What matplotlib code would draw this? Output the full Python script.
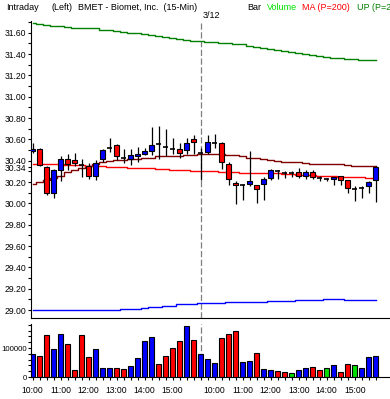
import matplotlib
matplotlib.use("Agg")
import matplotlib.pyplot as plt
from matplotlib.ticker import FixedLocator, MultipleLocator, FormatStrFormatter

plt.rcParams["font.family"] = ["Liberation Sans", "DejaVu Sans"]
plt.rcParams["font.size"] = 6.5

# 15-min bars: day 1 from 10:00, day 2 (3/12) from 9:30
day1 = [f"{h}:{m:02d}" for h in range(10, 16) for m in (0, 15, 30, 45)]
day2 = ["9:30", "9:45"] + day1
times = day1 + day2

opens = [30.49, 30.51, 30.34, 30.10, 30.31, 30.42, 30.41, 30.36, 30.35, 30.26,
         30.42, 30.52, 30.55, 30.43, 30.42, 30.445, 30.46, 30.49, 30.56, 30.53,
         30.51, 30.51, 30.50, 30.60, 30.47, 30.48, 30.57, 30.57, 30.37, 30.19,
         30.17, 30.18, 30.17, 30.18, 30.24, 30.30, 30.28, 30.28, 30.29, 30.26,
         30.29, 30.24, 30.23, 30.23, 30.26, 30.22, 30.13, 30.14, 30.16, 30.22]
highs = [30.57, 30.52, 30.35, 30.32, 30.44, 30.46, 30.47, 30.42, 30.38, 30.41,
         30.51, 30.61, 30.56, 30.51, 30.51, 30.53, 30.52, 30.72, 30.73, 30.70,
         30.61, 30.57, 30.61, 30.64, 30.52, 30.64, 30.65, 30.58, 30.39, 30.21,
         30.18, 30.49, 30.17, 30.25, 30.32, 30.31, 30.30, 30.30, 30.33, 30.31,
         30.31, 30.26, 30.24, 30.25, 30.26, 30.22, 30.16, 30.16, 30.21, 30.35]
lows = [30.47, 30.35, 30.08, 30.05, 30.21, 30.31, 30.35, 30.25, 30.23, 30.22,
        30.39, 30.48, 30.41, 30.38, 30.36, 30.39, 30.45, 30.45, 30.42, 30.44,
        30.46, 30.43, 30.46, 30.46, 30.22, 30.46, 30.52, 30.32, 30.17, 29.99,
        30.03, 30.16, 30.00, 30.03, 30.22, 30.23, 30.24, 30.25, 30.24, 30.23,
        30.23, 30.21, 30.21, 30.17, 30.17, 30.10, 30.02, 30.05, 30.10, 30.01]
closes = [30.51, 30.36, 30.10, 30.31, 30.42, 30.37, 30.38, 30.36, 30.26, 30.38,
          30.50, 30.52, 30.44, 30.43, 30.45, 30.46, 30.49, 30.55, 30.56, 30.53,
          30.51, 30.47, 30.57, 30.58, 30.47, 30.58, 30.57, 30.39, 30.23, 30.17,
          30.17, 30.21, 30.13, 30.23, 30.31, 30.30, 30.28, 30.28, 30.26, 30.29,
          30.25, 30.24, 30.23, 30.25, 30.22, 30.14, 30.13, 30.14, 30.20, 30.34]

volumes = [78, 73, 145, 97, 148, 113, 24, 145, 69, 97,
           31, 31, 31, 27, 38, 66, 125, 137, 45, 73,
           100, 125, 175, 128, 80, 62, 48, 134, 147, 160,
           52, 55, 83, 28, 24, 20, 17, 13, 24, 31,
           34, 24, 31, 41, 17, 45, 41, 31, 69, 73]  # thousands
vol_dir = "brrbbrrrrbbbrrbbbbrrrrbrbbbrrrbbrbbrrgbbrrgbrrgbbb"

ma200 = [30.37, 30.37, 30.37, 30.37, 30.365, 30.36, 30.36, 30.36, 30.355, 30.35,
         30.35, 30.345, 30.34, 30.34, 30.335, 30.33, 30.33, 30.33, 30.32, 30.32,
         30.315, 30.31, 30.31, 30.305, 30.30, 30.30, 30.30, 30.295, 30.295, 30.29,
         30.285, 30.285, 30.28, 30.28, 30.28, 30.28, 30.275, 30.275, 30.27, 30.265,
         30.265, 30.26, 30.26, 30.255, 30.25, 30.25, 30.25, 30.245, 30.24, 30.24]
mid_band = [30.18, 30.20, 30.22, 30.24, 30.26, 30.29, 30.31, 30.33, 30.35, 30.37,
            30.39, 30.40, 30.41, 30.41, 30.42, 30.42, 30.43, 30.43, 30.44, 30.44,
            30.44, 30.44, 30.45, 30.45, 30.46, 30.46, 30.46, 30.46, 30.45, 30.45,
            30.44, 30.43, 30.43, 30.42, 30.41, 30.40, 30.39, 30.39, 30.39, 30.38,
            30.37, 30.37, 30.37, 30.37, 30.37, 30.36, 30.35, 30.35, 30.35, 30.35]
up_band = [31.69, 31.68, 31.67, 31.66, 31.66, 31.65, 31.64, 31.64, 31.64, 31.64,
           31.63, 31.63, 31.62, 31.61, 31.60, 31.60, 31.59, 31.58, 31.57, 31.56,
           31.55, 31.54, 31.53, 31.52, 31.52, 31.51, 31.51, 31.50, 31.50, 31.49,
           31.49, 31.48, 31.47, 31.46, 31.45, 31.44, 31.43, 31.42, 31.41, 31.40,
           31.39, 31.38, 31.37, 31.36, 31.36, 31.35, 31.35, 31.34, 31.34, 31.34]
dn_band = [29.00] * 13 + [29.007] * 3 + [29.016] + [29.028] * 2 + [29.04] * 2 \
    + [29.054] * 3 + [29.063] * 4 + [29.072] * 6 + [29.082] * 4 + [29.091] * 4 \
    + [29.10] * 3 + [29.091] * 5

last_price = 30.34
day_break = 24

W, H = 390, 399
fig = plt.figure(figsize=(W / 100, H / 100), dpi=100)
ax = fig.add_axes([31 / W, 1 - 318 / H, 1 - 31 / W, (318 - 21) / H])
axv = fig.add_axes([31 / W, 1 - 377 / H, 1 - 31 / W, (377 - 324) / H])

x = list(range(len(times)))
colmap = {"b": "#0000ff", "r": "#ff0000", "g": "#00e000"}

# bands and averages
ax.plot(x, up_band, color="#008000", lw=1, drawstyle="steps-mid", zorder=1)
ax.plot(x, dn_band, color="#0000ff", lw=1, drawstyle="steps-mid", zorder=1)
ax.plot(x, mid_band, color="#800000", lw=1, drawstyle="steps-mid", zorder=1)
ax.plot(x, ma200, color="#ff0000", lw=1, drawstyle="steps-mid", zorder=1)

# candles
ax.vlines(x, lows, highs, color="black", lw=0.9, zorder=2)
for i in x:
    o, c = opens[i], closes[i]
    if abs(c - o) < 0.005:
        ax.hlines(o, i - 0.33, i + 0.33, color="black", lw=1.2, zorder=3)
    else:
        ax.bar(i, abs(c - o), bottom=min(o, c), width=0.66,
               color="#0000ff" if c > o else "#ff0000",
               edgecolor="black", lw=0.8, zorder=3)

# volume
axv.bar(x, [v * 1000 for v in volumes], width=0.68,
        color=[colmap[d] for d in vol_dir], edgecolor="black", lw=0.8)

for a in (ax, axv):
    a.set_xlim(-0.24, 51.04)
    a.spines["top"].set_visible(False)
    a.spines["right"].set_visible(False)
    a.axvline(day_break, color="#808080", lw=0.9, ls=(0, (5, 2)), zorder=0)

ax.set_ylim(28.925, 31.71)
ax.set_xticks([])
yt = [29.0 + 0.2 * k for k in range(14)] + [last_price]
ax.yaxis.set_major_locator(FixedLocator(yt))
ax.yaxis.set_major_formatter(FormatStrFormatter("%.2f"))
ax.yaxis.set_minor_locator(MultipleLocator(0.1))
ax.tick_params(axis="y", which="both", direction="out", length=2.2, width=0.8,
               pad=1, labelsize=6.2)

axv.set_ylim(0, 183000)
axv.set_yticks([0, 100000])
axv.set_yticklabels(["0", "100000"])
axv.yaxis.set_minor_locator(MultipleLocator(20000))
axv.tick_params(axis="y", which="both", direction="out", length=2.2, width=0.8,
                pad=1, labelsize=5.6)
hours = [i for i, t in enumerate(times) if t.endswith(":00")]
axv.set_xticks(hours)
axv.set_xticklabels([times[i] for i in hours])
axv.xaxis.set_minor_locator(FixedLocator(x))
axv.tick_params(axis="x", which="both", direction="out", length=2.2, width=0.8,
                pad=4.2, labelsize=6.2)

# header
ty = 1 - 7 / H
fig.text(6 / W, ty, "Intraday", va="center")
fig.text(52 / W, ty, "(Left)", va="center")
fig.text(78 / W, ty, "BMET - Biomet, Inc.  (15-Min)", va="center")
fig.text(247 / W, ty, "Bar", va="center")
fig.text(267 / W, ty, "Volume", va="center", color="#00e000")
fig.text(302 / W, ty, "MA (P=200)", va="center", color="#ff0000")
fig.text(357 / W, ty, "UP (P=20)", va="center", color="#008000")
fig.text(203 / W, 1 - 16 / H, "3/12", va="center")

fig.savefig("out.png", dpi=100)
